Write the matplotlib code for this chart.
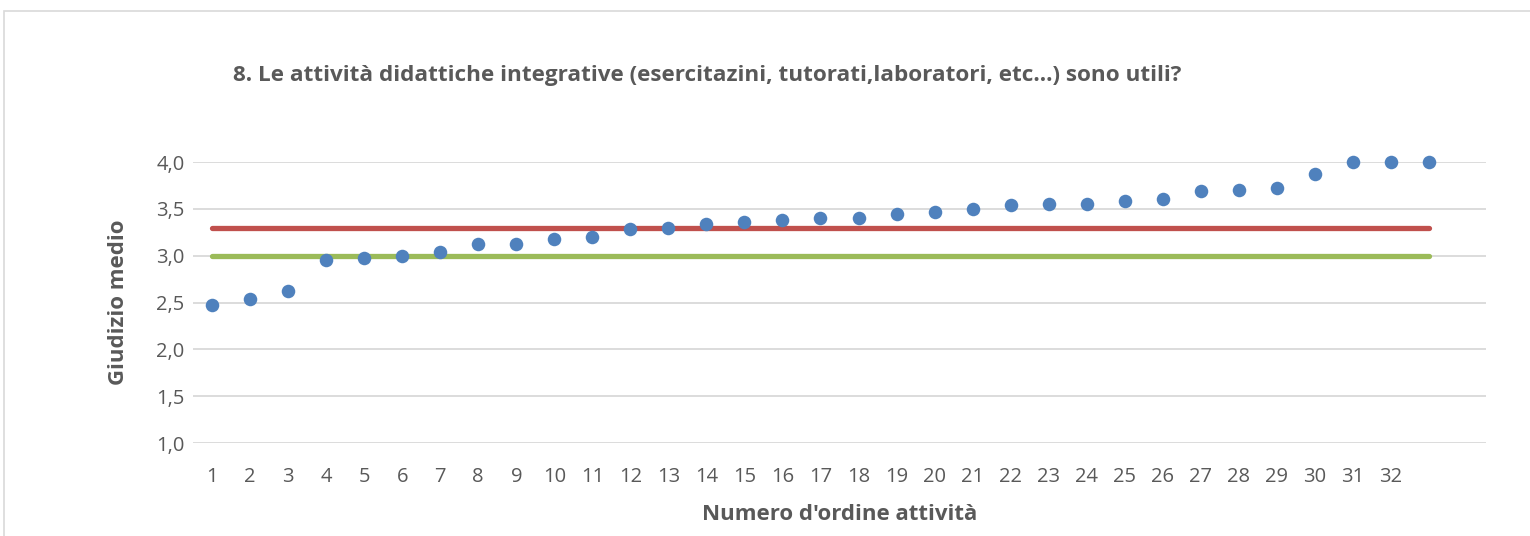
import matplotlib.pyplot as plt
from matplotlib.patches import Rectangle
from matplotlib.ticker import FuncFormatter

plt.rcParams['font.family'] = ['Open Sans', 'DejaVu Sans']

activity = list(range(1, 34))
tick_labels = [str(i) for i in range(1, 33)]
giudizio = [2.47, 2.54, 2.62, 2.95, 2.97, 3.00, 3.04, 3.12, 3.12, 3.18, 3.20,
            3.28, 3.30, 3.34, 3.36, 3.38, 3.40, 3.40, 3.44, 3.47, 3.50, 3.54,
            3.55, 3.55, 3.58, 3.61, 3.69, 3.70, 3.72, 3.87, 4.00, 4.00, 4.00]
red_level = 3.3
green_level = 3.0

fig = plt.figure(figsize=(15.3, 5.36), dpi=100)
W, H = 1530, 536
ax = fig.add_axes([193 / W, 1 - 443 / H, (1486 - 193) / W, (443 - 162) / H])

# chart area border (only top and left visible)
fig.patches.append(Rectangle((4 / W, -0.1), 1.2, (536 - 11) / H + 0.1,
                             transform=fig.transFigure, fill=False,
                             edgecolor='#D9D9D9', linewidth=1.2))

ax.hlines(green_level, activity[0], activity[-1], color='#9BBB59', linewidth=3.8,
          capstyle='round', zorder=3)
ax.hlines(red_level, activity[0], activity[-1], color='#C0504D', linewidth=3.8,
          capstyle='round', zorder=3)
ax.scatter(activity, giudizio, s=95, color='#4F81BD', zorder=4, clip_on=False,
           linewidths=0)

ax.set_xlim(0.5, 34.5)
ax.set_ylim(1.0, 4.0)
ax.set_yticks([1.0, 1.5, 2.0, 2.5, 3.0, 3.5, 4.0])
ax.yaxis.set_major_formatter(FuncFormatter(lambda v, p: f'{v:.1f}'.replace('.', ',')))
ax.set_xticks(range(1, 33))
ax.set_xticklabels(tick_labels)
ax.grid(axis='y', color='#D9D9D9', linewidth=1.3, zorder=0)
for s in ax.spines.values():
    s.set_visible(False)
ax.tick_params(length=0, labelsize=14.5, labelcolor='#595959')
ax.tick_params(axis='y', pad=6)
ax.tick_params(axis='x', pad=17)

fig.text(118 / W, 1 - 302 / H, 'Giudizio medio', rotation=90, ha='center', va='center',
         fontsize=16, fontweight='bold', color='#595959')
fig.text(840 / W, 1 - 514 / H, "Numero d'ordine attività", ha='center', va='center',
         fontsize=16, fontweight='bold', color='#595959')
fig.text(233 / W, 1 - 75 / H,
         '8. Le attività didattiche integrative (esercitazini, tutorati,laboratori, etc...) sono utili?',
         ha='left', va='center', fontsize=16.2, fontweight='bold', color='#595959')

fig.savefig('out.png', dpi=100)
